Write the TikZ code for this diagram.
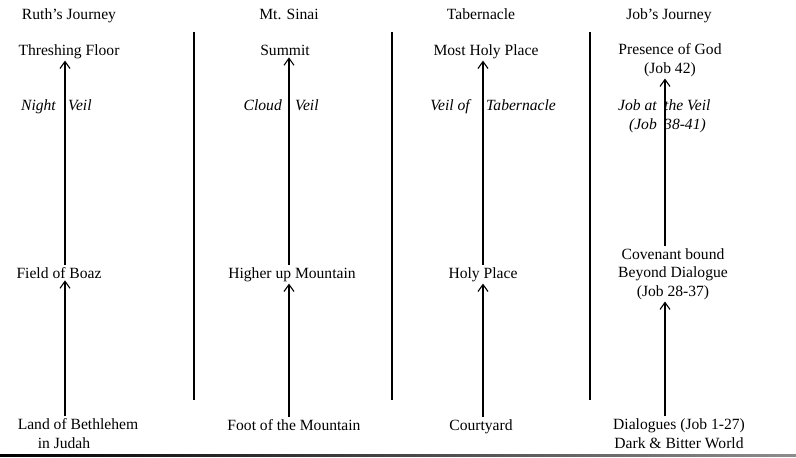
\documentclass[tikz,border=0pt]{standalone}
\usepackage{fontspec}
\setmainfont{Liberation Serif}
\usetikzlibrary{arrows.meta}

\begin{document}
\begin{tikzpicture}[
        x=1pt, y=-1pt,
        place/.style={font=\fontsize{15.6}{18.5}\selectfont, inner sep=2pt, anchor=base, align=center},
        veil/.style={font=\fontsize{15.6}{18.5}\selectfont\itshape, inner sep=0pt, anchor=base},
        up/.style={-{Straight Barb[length=7pt, width=10pt]}, line width=1.1pt},
        divider/.style={line width=1.1pt}
    ]
    \useasboundingbox (0,0) rectangle (796,458);

    % Column headers
    \node[place] (hruth) at (69,19) {Ruth’s Journey};
    \node[place] (hsinai) at (289,19) {Mt. Sinai};
    \node[place] (htab) at (481,19) {Tabernacle};
    \node[place] (hjob) at (669,19) {Job’s Journey};

    % Dividers
    \draw[divider] (194,32) -- (194,400);
    \draw[divider] (392,32) -- (392,400);
    \draw[divider] (590,32) -- (590,400);

    % Arrow columns
    \coordinate (ruthx) at (65,0);
    \coordinate (sinaix) at (289,0);
    \coordinate (tabx) at (483,0);
    \coordinate (jobx) at (665,0);

    % Ruth's Journey (multi-line nodes sit on their last baseline)
    \node[place] (floor) at (69,55) {Threshing Floor};
    \node[place] (boaz) at (59,278) {Field of Boaz};
    \node[place, align=left] (bethlehem) at (78,448) {Land of Bethlehem\\\hspace*{20pt}in Judah};
    \node[veil, anchor=base east] (night) at (56,110) {Night};
    \node[veil, anchor=base west] (nveil) at (68,110) {Veil};
    \draw[up] (bethlehem.north -| ruthx) -- (boaz.south -| ruthx);
    \draw[up] (boaz.north -| ruthx) -- (floor.south -| ruthx);

    % Mt. Sinai
    \node[place] (summit) at (285,55) {Summit};
    \node[place] (higher) at (292,278) {Higher up Mountain};
    \node[place] (foot) at (294,430) {Foot of the Mountain};
    \node[veil, anchor=base east] (cloud) at (282,110) {Cloud};
    \node[veil, anchor=base west] (cveil) at (295,110) {Veil};
    \draw[up] (foot.north -| sinaix) -- (higher.south -| sinaix);
    \draw[up] (higher.north -| sinaix) -- (summit.south -| sinaix);

    % Tabernacle
    \node[place] (mostholy) at (486,55) {Most Holy Place};
    \node[place] (holy) at (483,278) {Holy Place};
    \node[place] (court) at (481,430) {Courtyard};
    \node[veil, anchor=base east] (veilof) at (470,110) {Veil of};
    \node[veil, anchor=base west] (tveil) at (486,110) {Tabernacle};
    \draw[up] (court.north -| tabx) -- (holy.south -| tabx);
    \draw[up] (holy.north -| tabx) -- (mostholy.south -| tabx);

    % Job's Journey
    \node[place] (presence) at (670,73) {Presence of God\\(Job 42)};
    \node[place] (covenant) at (673,296) {Covenant bound\\Beyond Dialogue\\(Job 28-37)};
    \node[place] (dialogues) at (679,448) {Dialogues (Job 1-27)\\Dark \& Bitter World};
    \node[veil, anchor=base east, align=right] (jobat) at (657,129) {Job at\\(Job};
    \node[veil, anchor=base west, align=left] (jveil) at (664,129) {the Veil\\38-41)};
    \draw[up] (dialogues.north -| jobx) -- (covenant.south -| jobx);
    \draw[up] (covenant.north -| jobx) -- (presence.south -| jobx);

    % Bottom rule
    \shade[left color=black, right color=black!45] (0,454) rectangle (796,456);
\end{tikzpicture}
\end{document}
